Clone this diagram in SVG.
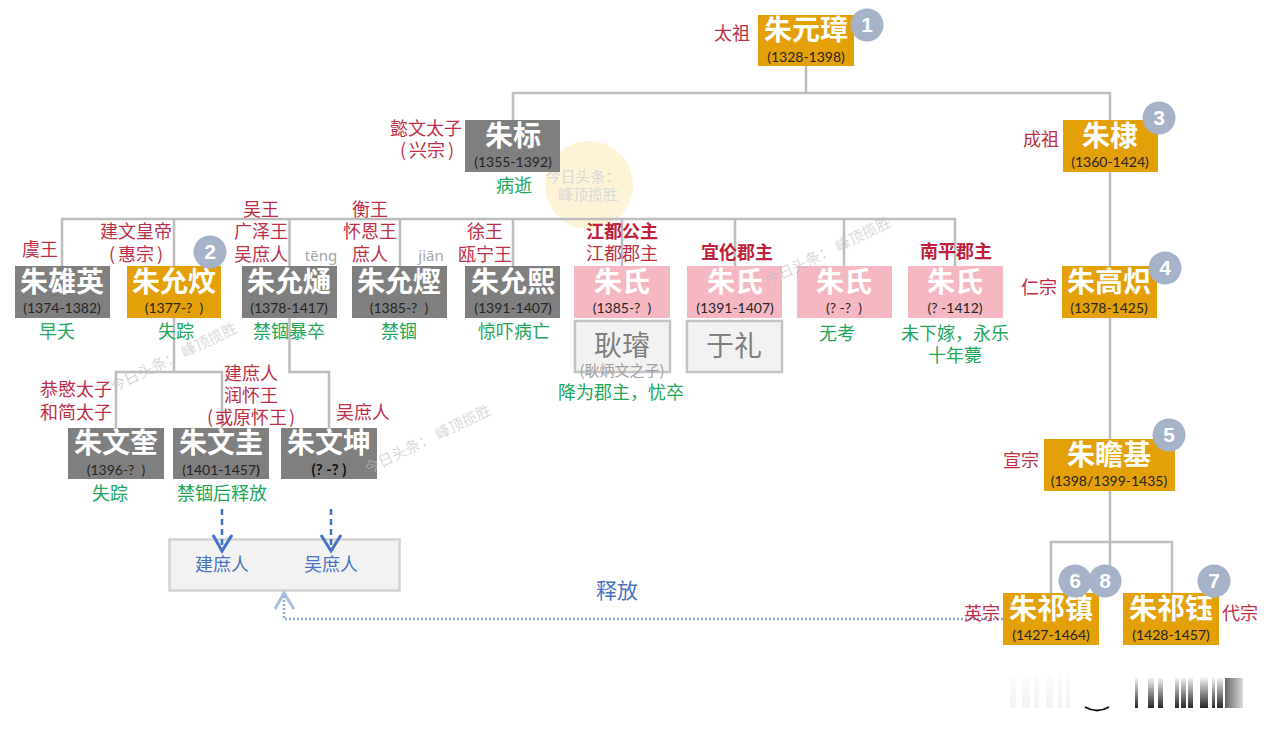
<svg xmlns="http://www.w3.org/2000/svg" width="1264" height="731" viewBox="0 0 1264 731">
<style>
text{font-family:"Noto Sans CJK SC","Noto Sans",sans-serif;text-anchor:middle}
.n{font-size:28px;font-weight:700;fill:#fff}
.y{font-family:Lato,"Noto Sans CJK SC",sans-serif;font-size:14px;fill:#262626}
.r{font-size:18px;fill:#bd2f47}
.rb{font-size:18px;font-weight:700;fill:#bd1f3c}
.g{font-size:18px;fill:#22a65a}
.p{font-family:"Noto Sans","Liberation Sans",sans-serif;font-size:15px;fill:#a6a6a6}
.o{fill:#e3a009}.k{fill:#7f7f7f}.m{fill:#f5b8c3}
.b{fill:#f2f2f2;stroke:#c4c4c4;stroke-width:2.5}
.c{fill:#a6b2c8}
.ct{font-family:"Liberation Sans",sans-serif;font-size:21px;font-weight:700;fill:#fff}
.l{fill:none;stroke:#bdbdbd;stroke-width:2.5}
.w{font-size:15px;fill:#d9d9d9}
.wr{font-size:15px;fill:#bdbdbd;fill-opacity:.6}
.q{font-size:18px;fill:#4a72c0}
</style>
<defs>
<linearGradient id="fade" x1="0" y1="0" x2="0" y2="1"><stop offset="0" stop-color="#000" stop-opacity="0"/><stop offset="1" stop-color="#000" stop-opacity=".85"/></linearGradient>
<linearGradient id="fadeH" x1="0" y1="0" x2="1" y2="0"><stop offset="0" stop-color="#000" stop-opacity=".6"/><stop offset="1" stop-color="#000" stop-opacity=".15"/></linearGradient>
<linearGradient id="faint" x1="0" y1="0" x2="0" y2="1"><stop offset="0" stop-color="#000" stop-opacity=".01"/><stop offset="1" stop-color="#000" stop-opacity=".05"/></linearGradient>
</defs>
<rect width="1264" height="731" fill="#fff"/>
<g id="watermark-seal">
<circle cx="589" cy="185" r="44" fill="#fdf3d6"/>
<text class="w" x="583" y="182">今日头条：</text>
<text class="w" x="588" y="200">峰顶揽胜</text>
</g>
<g id="box-released"><rect x="169.500" y="539.500" width="230" height="51" fill="#f2f2f2" stroke="#d2d2d2" stroke-width="2.500"/><text class="q" x="222" y="571">建庶人</text><text class="q" x="331" y="571">吴庶人</text></g>
<g id="connectors">
<path class="l" d="M806 66V93M513 172V93H1110V593M1051 593V542H1172V593"/>
<path class="l" d="M62 266V219H955V266M174 219V266M289.500 219V266M400 219V266M513 219V266M622 219V266M735 219V266M844 219V266"/>
<path class="l" d="M174 318V372H116V428M174 372H222V428M289.500 318V372H329V428"/>
<path fill="none" stroke="#4472c4" stroke-width="2.500" stroke-dasharray="6 4" d="M222 509V550M331 509V550"/>
<path fill="none" stroke="#4472c4" stroke-width="3" d="M213 535L222 551L232 535M321 535L331 551L341 535"/>
<path fill="none" stroke="#8faadc" stroke-width="2.500" stroke-dasharray="2 2" d="M1003 619H284V595"/>
<path fill="none" stroke="#a9bde2" stroke-width="3" d="M275 609L284 593L294 609"/>
</g>
<g id="n-yuanzhang"><rect class="o" x="758" y="15" width="96" height="51"/><text class="n" x="806" y="40">朱元璋</text><text class="y" x="806" y="62">(1328-1398)</text><text class="r" x="732" y="40">太祖</text><circle class="c" cx="867" cy="25" r="16.500"/><text class="ct" x="867" y="32">1</text></g>
<g id="n-biao"><rect class="k" x="465" y="120" width="95" height="52"/><text class="n" x="513" y="146">朱标</text><text class="y" x="513" y="167">(1355-1392)</text><text class="r" x="426" y="135">懿文太子</text><text class="r" x="427" y="157">(<tspan dx="3">兴宗</tspan><tspan dx="3">)</tspan></text><text class="g" x="514" y="192">病逝</text></g>
<g id="n-di"><rect class="o" x="1063" y="120" width="95" height="52"/><text class="n" x="1110" y="146">朱棣</text><text class="y" x="1110" y="167">(1360-1424)</text><text class="r" x="1041" y="146">成祖</text><circle class="c" cx="1159" cy="118" r="16.500"/><text class="ct" x="1159" y="125">3</text></g>
<g id="n-gaochi"><rect class="o" x="1062" y="266" width="95" height="52"/><text class="n" x="1109" y="292">朱高炽</text><text class="y" x="1109" y="313">(1378-1425)</text><text class="r" x="1039" y="294">仁宗</text><circle class="c" cx="1165" cy="268" r="16.500"/><text class="ct" x="1165" y="275">4</text></g>
<g id="n-zhanji"><rect class="o" x="1044" y="439" width="131" height="52"/><text class="n" x="1109" y="465">朱瞻基</text><text class="y" x="1109" y="486">(1398/1399-1435)</text><text class="r" x="1021" y="467">宣宗</text><circle class="c" cx="1169" cy="435" r="16.500"/><text class="ct" x="1169" y="442">5</text></g>
<g id="n-qizhen"><rect class="o" x="1003" y="593" width="96" height="52"/><text class="n" x="1051" y="619">朱祁镇</text><text class="y" x="1051" y="640">(1427-1464)</text><text class="r" x="982" y="620">英宗</text><circle class="c" cx="1075" cy="581" r="16.500"/><text class="ct" x="1075" y="588">6</text><circle class="c" cx="1105" cy="581" r="16.500"/><text class="ct" x="1105" y="588">8</text></g>
<g id="n-qiyu"><rect class="o" x="1123" y="593" width="96" height="52"/><text class="n" x="1171" y="619">朱祁钰</text><text class="y" x="1171" y="640">(1428-1457)</text><text class="r" x="1240" y="620">代宗</text><circle class="c" cx="1214" cy="581" r="16.500"/><text class="ct" x="1214" y="588">7</text></g>
<g id="n-xiongying"><rect class="k" x="15" y="266" width="95" height="52"/><text class="n" x="62" y="292">朱雄英</text><text class="y" x="62" y="313">(1374-1382)</text><text class="r" x="40" y="256">虞王</text><text class="g" x="57" y="338">早夭</text></g>
<g id="n-yunwen"><rect class="o" x="127" y="266" width="94" height="52"/><text class="n" x="174" y="292">朱允炆</text><text class="y" x="174" y="313">(1377-?&#160;&#160;)</text><text class="r" x="136" y="238">建文皇帝</text><text class="r" x="136" y="261">(<tspan dx="3">惠宗</tspan><tspan dx="3">)</tspan></text><text class="g" x="176" y="338">失踪</text><circle class="c" cx="210" cy="252" r="16.500"/><text class="ct" x="210" y="259">2</text></g>
<g id="n-yuntong"><rect class="k" x="242" y="266" width="95" height="52"/><text class="n" x="289" y="292">朱允熥</text><text class="y" x="289" y="313">(1378-1417)</text><text class="r" x="261" y="216">吴王</text><text class="r" x="261" y="238">广泽王</text><text class="r" x="261" y="261">吴庶人</text><text class="p" x="321" y="261">tēng</text><text class="g" x="289" y="338">禁锢暴卒</text></g>
<g id="n-yunjian"><rect class="k" x="352" y="266" width="95" height="52"/><text class="n" x="399" y="292">朱允熞</text><text class="y" x="399" y="313">(1385-?&#160;&#160;)</text><text class="r" x="370" y="216">衡王</text><text class="r" x="370" y="238">怀恩王</text><text class="r" x="370" y="261">庶人</text><text class="p" x="431" y="261">jiān</text><text class="g" x="399" y="338">禁锢</text></g>
<g id="n-yunxi"><rect class="k" x="465" y="266" width="95" height="52"/><text class="n" x="513" y="292">朱允熙</text><text class="y" x="513" y="313">(1391-1407)</text><text class="r" x="485" y="238">徐王</text><text class="r" x="485" y="261">瓯宁王</text><text class="g" x="514" y="338">惊吓病亡</text></g>
<g id="n-jiangdu"><rect class="m" x="574" y="266" width="96" height="52"/><text class="n" x="622" y="292">朱氏</text><text class="y" x="622" y="313">(1385-?&#160;&#160;)</text><text class="rb" x="622" y="238">江都公主</text><text class="r" x="622" y="260">江都郡主</text></g>
<g id="n-yilun"><rect class="m" x="687" y="266" width="95" height="52"/><text class="n" x="735" y="292">朱氏</text><text class="y" x="735" y="313">(1391-1407)</text><text class="rb" x="737" y="259">宜伦郡主</text></g>
<g id="n-third"><rect class="m" x="797" y="266" width="95" height="52"/><text class="n" x="844" y="292">朱氏</text><text class="y" x="844" y="313">(?&#160;-?&#160;&#160;)</text><text class="g" x="837" y="340">无考</text></g>
<g id="n-nanping"><rect class="m" x="908" y="266" width="95" height="52"/><text class="n" x="955" y="292">朱氏</text><text class="y" x="955" y="313">(?&#160;-1412)</text><text class="rb" x="956" y="258">南平郡主</text><text class="g" x="955" y="340">未下嫁，永乐</text><text class="g" x="955" y="362">十年薨</text></g>
<g id="n-gengxuan"><rect class="b" x="575" y="321" width="95" height="51"/><text x="622" y="356" font-size="28" fill="#7f7f7f">耿璿</text><text x="622" y="376" font-size="15" fill="#a0a0a0">(耿炳文之子)</text><text class="g" x="621" y="399">降为郡主，忧卒</text></g>
<g id="n-yuli"><rect class="b" x="687" y="321" width="95" height="51"/><text x="734" y="356" font-size="28" fill="#7f7f7f">于礼</text></g>
<g id="n-wenkui"><rect class="k" x="68" y="428" width="96" height="51"/><text class="n" x="116" y="453">朱文奎</text><text class="y" x="116" y="475">(1396-?&#160;&#160;)</text><text class="r" x="76" y="396">恭愍太子</text><text class="r" x="76" y="419">和简太子</text><text class="g" x="110" y="500">失踪</text></g>
<g id="n-wengui"><rect class="k" x="173" y="428" width="96" height="51"/><text class="n" x="221" y="453">朱文圭</text><text class="y" x="221" y="475">(1401-1457<tspan font-weight="700">)</tspan></text><text class="r" x="251" y="380">建庶人</text><text class="r" x="251" y="402">润怀王</text><text class="r" x="251" y="424">(<tspan dx="2">或原怀王</tspan><tspan dx="2">)</tspan></text><text class="g" x="222" y="500">禁锢后释放</text></g>
<g id="n-wenkun"><rect class="k" x="281" y="428" width="96" height="51"/><text class="n" x="329" y="453">朱文坤</text><text class="y" x="329" y="475" style="font-weight:700;fill:#111;font-size:15px">(?&#160;-?&#160;)</text><text class="r" x="363" y="419">吴庶人</text></g>
<text x="617" y="598" font-size="21" fill="#4a72c0">释放</text>
<g id="watermarks">
<text class="wr" transform="translate(176,362) rotate(-26)">今日头条：  峰顶揽胜</text>
<text class="wr" transform="translate(830,256) rotate(-26)">今日头条：  峰顶揽胜</text>
<text class="wr" transform="translate(430,444) rotate(-26)">今日头条：  峰顶揽胜</text>
</g>
<g id="artifact">
<path fill="url(#faint)" d="M1010 675h6v33h-6zM1022 675h8v33h-8zM1034 675h5v33h-5zM1046 675h7v33h-7zM1058 675h4v33h-4zM1066 675h4v33h-4z"/>
<path fill="url(#fade)" d="M1135 678h3v30h-3zM1148 678h6v30h-6zM1158 678h5v30h-5zM1175 678h4v30h-4zM1181 678h5v30h-5zM1188 678h5v30h-5zM1200 676h8v32h-8zM1212 678h3v30h-3zM1217 678h6v30h-6z"/>
<rect x="1225" y="678" width="18" height="30" fill="url(#fadeH)"/>
<path fill="none" stroke="#111" stroke-width="2" d="M1085 707Q1097 714 1109 707"/>
</g>
</svg>
